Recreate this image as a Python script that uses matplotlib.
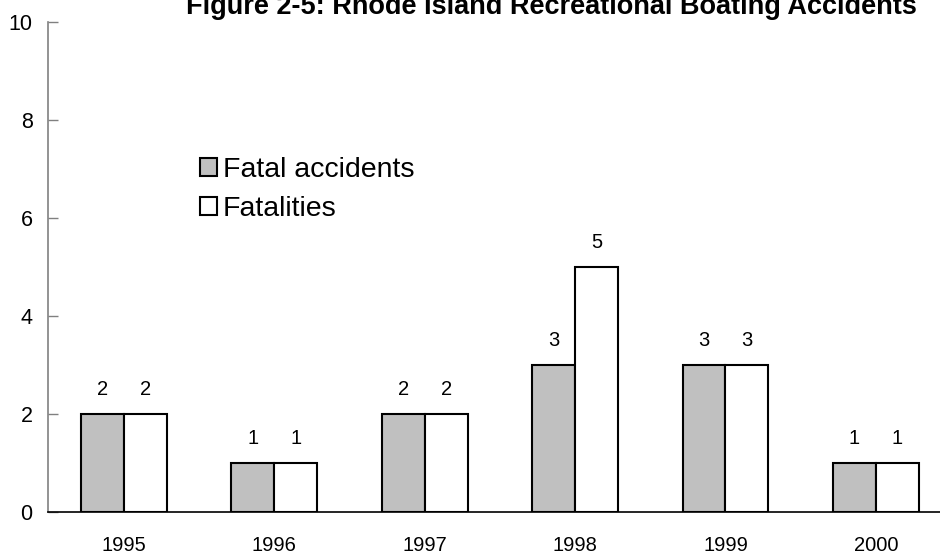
import matplotlib.pyplot as plt
import numpy as np

plt.rcParams['font.family'] = ['Liberation Sans', 'DejaVu Sans']

years = ['1995', '1996', '1997', '1998', '1999', '2000']
fatal_accidents = [2, 1, 2, 3, 3, 1]
fatalities = [2, 1, 2, 5, 3, 1]

fig = plt.figure(figsize=(9.4, 5.54), dpi=100)
ax = fig.add_axes([48 / 940, 42 / 554, 903 / 940, 490 / 554])

x = np.arange(len(years))
w = 0.285
b1 = ax.bar(x - w / 2, fatal_accidents, w, color='#c0c0c0', edgecolor='black',
            linewidth=1.5, label='Fatal accidents')
b2 = ax.bar(x + w / 2, fatalities, w, color='white', edgecolor='black',
            linewidth=1.5, label='Fatalities')

for bars, vals in [(b1, fatal_accidents), (b2, fatalities)]:
    for bar, v in zip(bars, vals):
        ax.annotate(f'{v}', (bar.get_x() + bar.get_width() / 2, bar.get_height()),
                    xytext=(0, 10.5), textcoords='offset points',
                    ha='center', va='bottom', fontsize=14.5)

ax.set_xlim(-0.505, 5.5)
ax.set_ylim(0, 10)
ax.set_yticks([0, 2, 4, 6, 8, 10])
ax.set_xticks(x)
ax.set_xticklabels(years)
ax.tick_params(axis='y', direction='in', length=7, width=1, color='#808080',
               labelsize=15.5, pad=11)
ax.tick_params(axis='x', length=0, labelsize=14.5, pad=17)

for s in ['top', 'right']:
    ax.spines[s].set_visible(False)
ax.spines['left'].set_color('#808080')
ax.spines['left'].set_linewidth(1.2)
ax.spines['bottom'].set_color('black')
ax.spines['bottom'].set_linewidth(1.2)

ax.legend(loc='upper left', bbox_to_anchor=(200 / 940, 1 - 157 / 554),
          bbox_transform=fig.transFigure, frameon=False, fontsize=20.5,
          handlelength=0.6, handleheight=0.6, handletextpad=0.2,
          labelspacing=0.45, borderpad=0, borderaxespad=0)

fig.text(551 / 940, 1 - 14 / 554,
         'Figure 2-5: Rhode Island Recreational Boating Accidents',
         ha='center', va='baseline', fontsize=19.5, fontweight='bold')

fig.savefig('out.png', dpi=100)
